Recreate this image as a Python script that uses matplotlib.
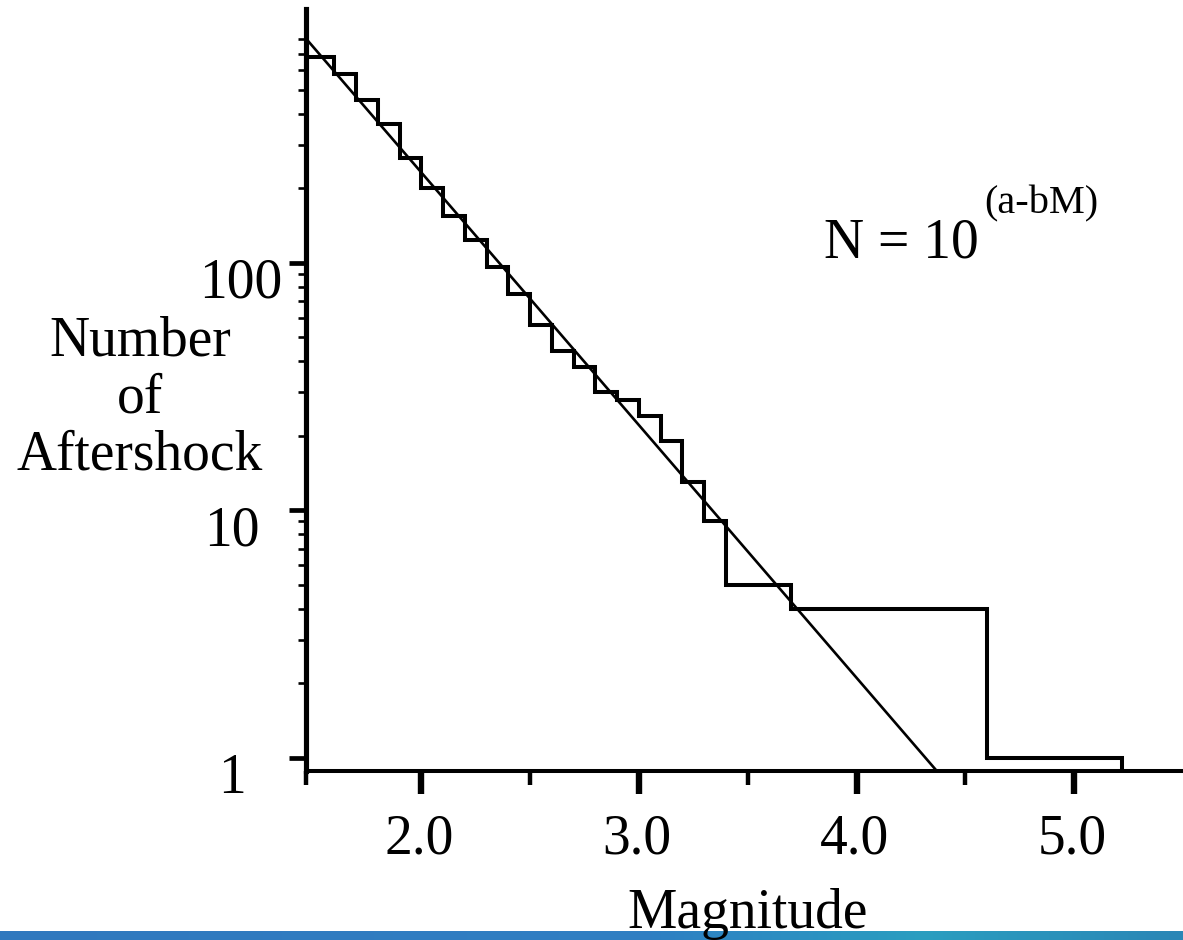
import matplotlib
matplotlib.use("Agg")
import matplotlib.pyplot as plt
import numpy as np
from matplotlib.colors import LinearSegmentedColormap
from matplotlib.transforms import blended_transform_factory

plt.rcParams['font.family'] = ['Liberation Serif', 'DejaVu Serif']

# dados
mag_edges = [1.47, 1.6, 1.7, 1.8, 1.9, 2.0, 2.1, 2.2, 2.3, 2.4, 2.5, 2.6, 2.7,
             2.8, 2.9, 3.0, 3.1, 3.2, 3.3, 3.4, 3.7, 4.6, 5.22]
n_aftershock = [680, 580, 455, 365, 265, 200, 155, 123, 96, 75, 56, 44, 38,
                30, 28, 24, 19, 13, 9, 5, 4, 1]

# reta N = 10^(a-bM)
fit_mag = [1.47, 4.38]
fit_n = [805, 0.86]

x_major = [2.0, 3.0, 4.0, 5.0]
x_labels = ['2.0', '3.0', '4.0', '5.0']
x_minor = [1.47, 2.5, 3.5, 4.5]
y_major = [1, 10, 100]
y_labels = ['1', '10', '100']
y_minor = [2, 3, 4, 5, 6, 7, 8, 9, 20, 30, 40, 50, 60, 70, 80, 90,
           200, 300, 400, 500, 600, 700, 800]
ylabel_lines = ['Number', 'of', 'Aftershock']

W, H = 1183, 940
fig = plt.figure(figsize=(W / 100, H / 100), dpi=100)


def fx(px):
    return px / W


def fy(py):
    return 1 - py / H


ax = fig.add_axes([fx(306), fy(771), fx(1183) - fx(306), fy(9) - fy(771)])
ax.set_yscale('log')
ax.set_xlim(1.47, 5.5)
ax.set_ylim(0.883, 1060)

ax.stairs(n_aftershock, mag_edges, baseline=0.883, color='black', lw=2.9,
          joinstyle='miter', clip_on=False)
ax.plot(fit_mag, fit_n, color='black', lw=1.9, solid_capstyle='butt')

for s in ['top', 'right']:
    ax.spines[s].set_visible(False)
ax.spines['left'].set_linewidth(3.7)
ax.spines['bottom'].set_linewidth(2.9)

ax.set_xticks(x_major)
ax.set_xticks(x_minor, minor=True)
ax.set_yticks(y_major)
ax.set_yticks(y_minor, minor=True)
ax.tick_params(which='both', labelbottom=False, labelleft=False, direction='out')
ax.tick_params(axis='x', which='major', length=16.5, width=4.6)
ax.tick_params(axis='x', which='minor', length=10, width=3.2)
ax.tick_params(axis='y', which='major', length=12.5, width=3.4)
ax.tick_params(axis='y', which='minor', length=6, width=1.9)

# rotulos do eixo y (colocados a mao, como no original)
ty = blended_transform_factory(fig.transFigure, ax.transData)
y_label_px = [232, 232, 241]
for v, txt, px in zip(y_major, y_labels, y_label_px):
    ax.text(fx(px), v * 10 ** (-35 / 247.4), txt, transform=ty, ha='center',
            va='baseline', fontsize=40)

# rotulos do eixo x
tx = blended_transform_factory(ax.transData, fig.transFigure)
for v, txt in zip(x_major, x_labels):
    ax.text(v - 0.01, fy(853), txt, transform=tx, ha='center', va='baseline',
            fontsize=40, clip_on=False)

for i, line in enumerate(ylabel_lines):
    fig.text(fx(140), fy(355 + 57.5 * i), line, ha='center', va='baseline',
             fontsize=40)

fig.text(fx(748), fy(928), 'Magnitude', ha='center', va='baseline', fontsize=40)
fig.text(fx(824), fy(257), 'N = 10', ha='left', va='baseline', fontsize=40)
fig.text(fx(984), fy(213), '(a-bM)', ha='left', va='baseline', fontsize=29)

# faixa azul no rodape
bar = fig.add_axes([0, 0, 1, 9 / H])
cmap = LinearSegmentedColormap.from_list(
    'faixa', [(0, '#2f78be'), (0.55, '#2f7fc3'), (0.78, '#2a9ec0'), (1.0, '#2a86b6')])
bar.imshow(np.linspace(0, 1, 256)[None, :], aspect='auto', cmap=cmap,
           extent=[0, 1, 0, 1])
bar.axis('off')

fig.savefig('out.png', dpi=100)
